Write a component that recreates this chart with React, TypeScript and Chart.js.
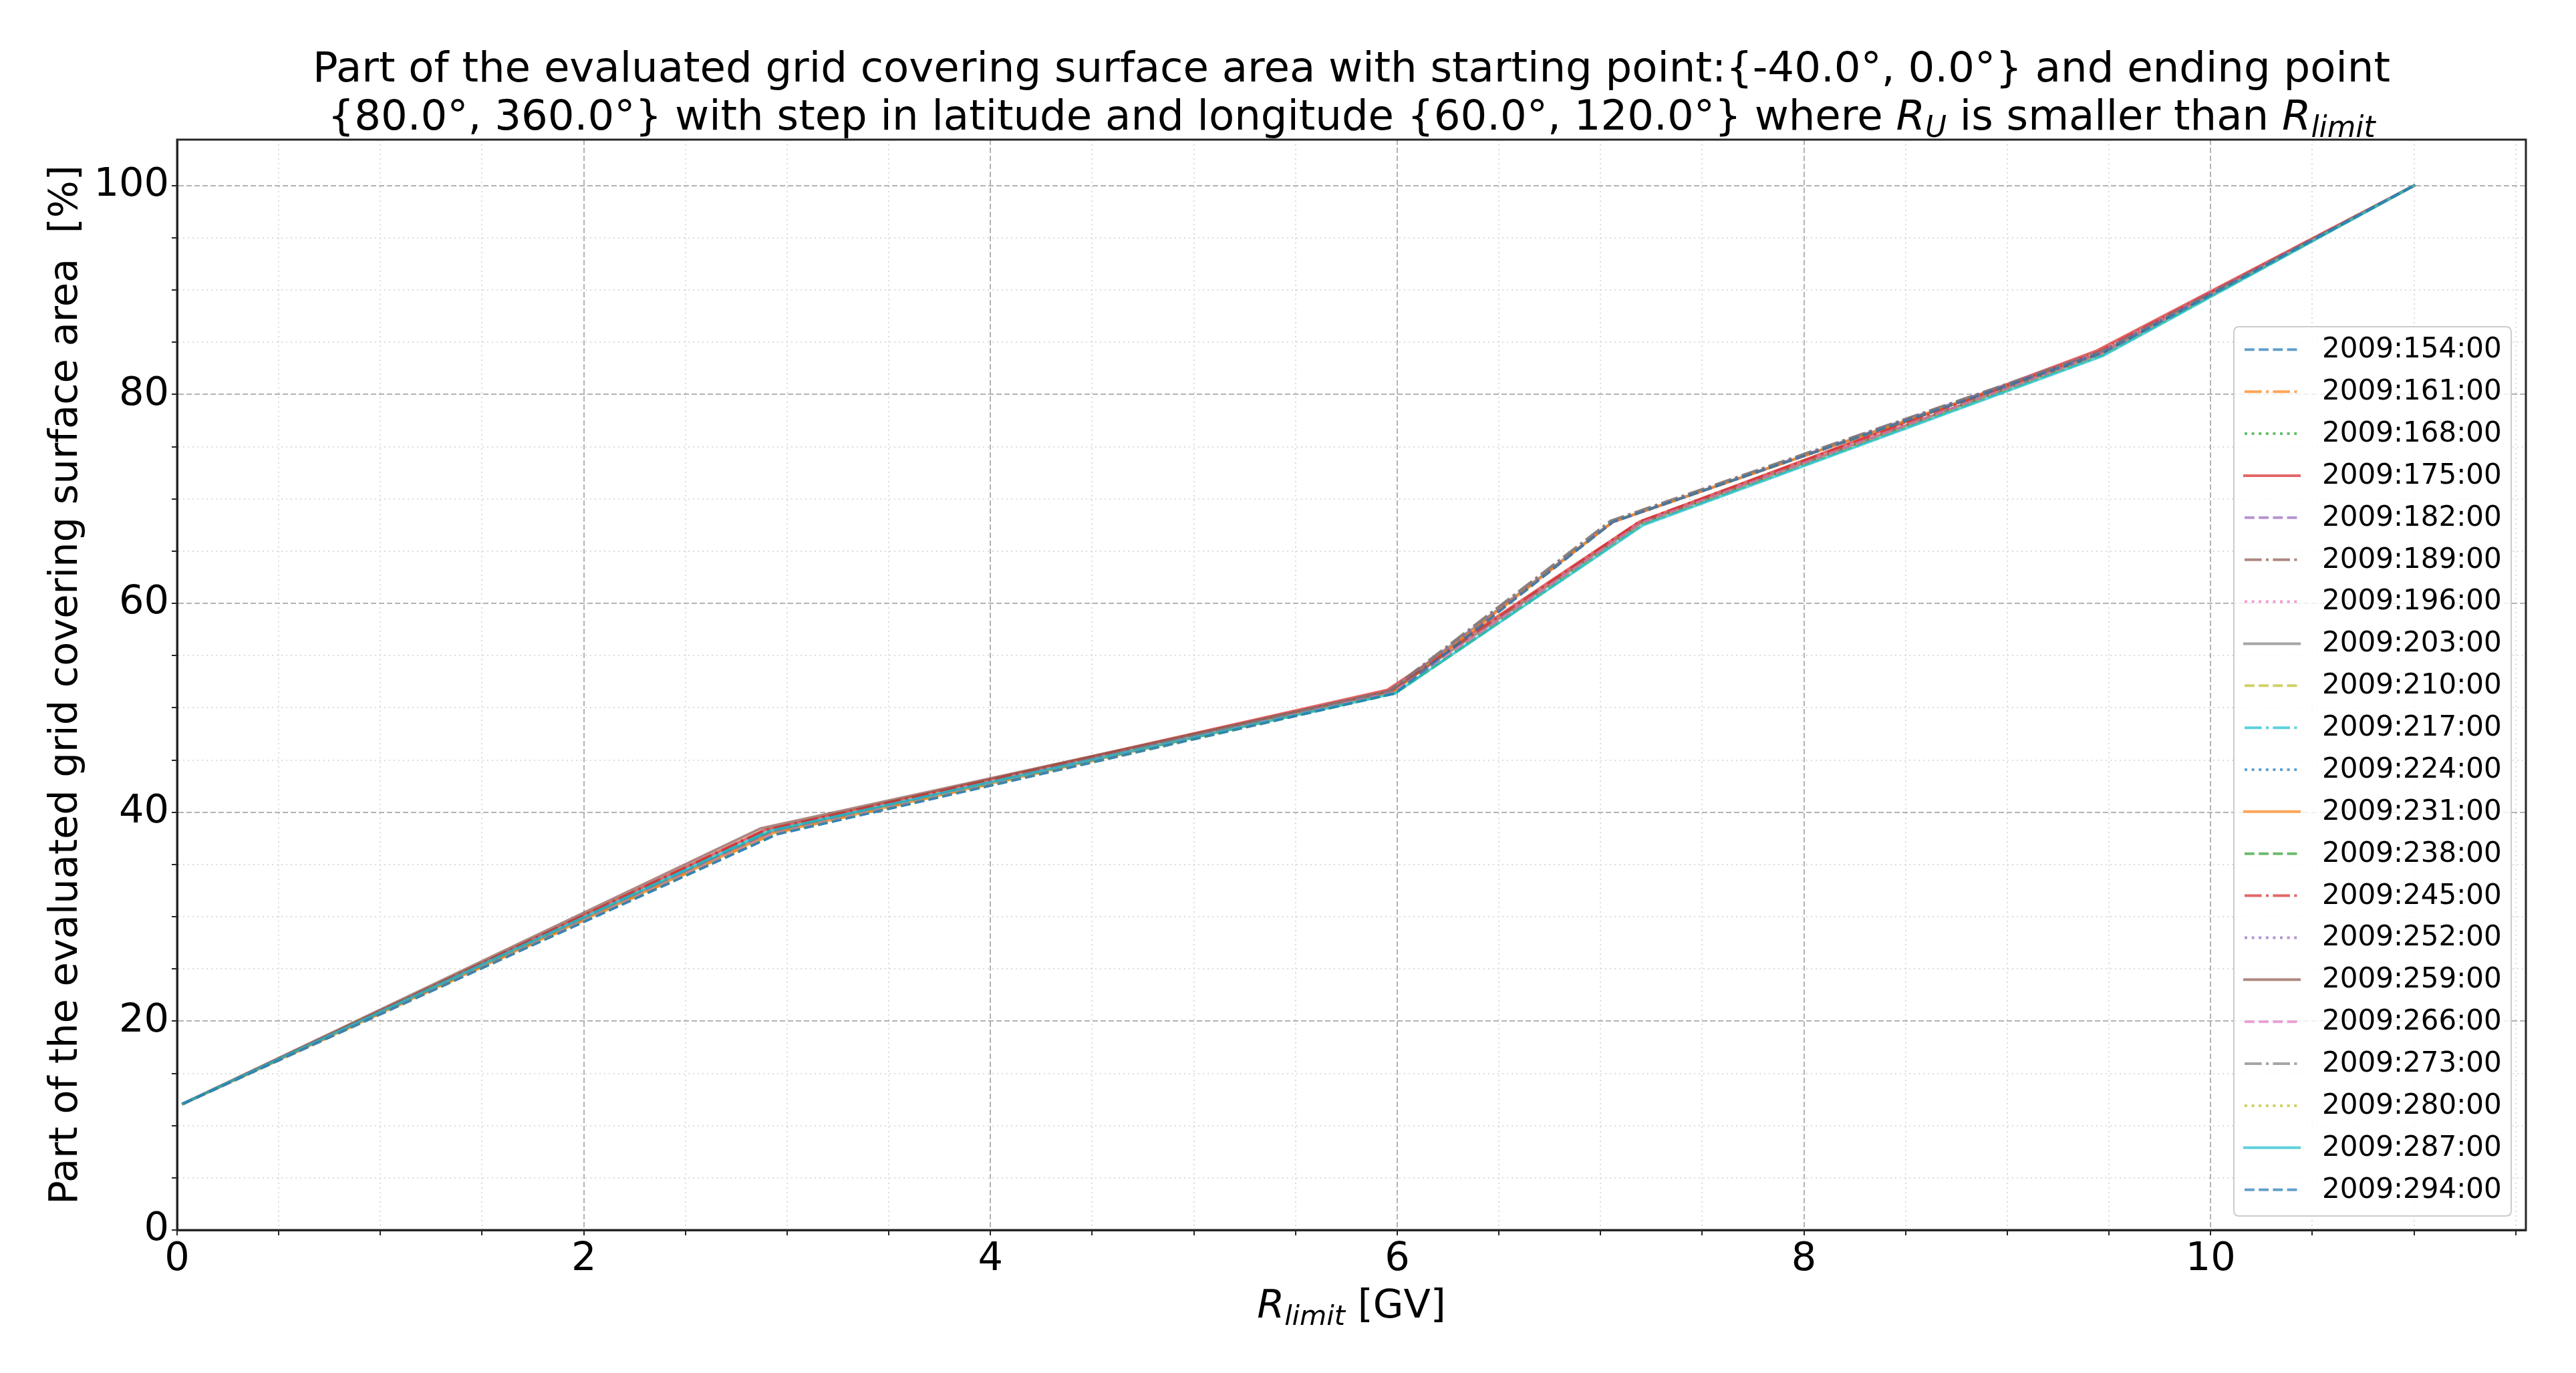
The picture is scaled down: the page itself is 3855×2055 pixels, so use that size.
import React, { useEffect, useRef } from 'react';
import { Chart, registerables } from 'chart.js';

Chart.register(...registerables);

// ---------------- data ----------------
const SERIES_LABELS = [
  '2009:154:00', '2009:161:00', '2009:168:00', '2009:175:00', '2009:182:00', '2009:189:00', '2009:196:00',
  '2009:203:00', '2009:210:00', '2009:217:00', '2009:224:00', '2009:231:00', '2009:238:00', '2009:245:00',
  '2009:252:00', '2009:259:00', '2009:266:00', '2009:273:00', '2009:280:00', '2009:287:00', '2009:294:00',
];

const X_154 = [0.03, 2.95, 5.99, 7.06, 9.47, 11.0];
const Y_154 = [12.1, 37.9, 51.4, 67.8, 84.0, 100.0];
const X_161 = [0.03, 2.94, 5.98, 7.06, 9.47, 11.0];
const Y_161 = [12.1, 38.0, 51.5, 67.8, 84.0, 100.0];
const X_168 = [0.03, 2.91, 5.99, 7.20, 9.46, 11.0];
const Y_168 = [12.1, 38.1, 51.4, 67.7, 83.9, 100.0];
const X_175 = [0.03, 2.89, 5.95, 7.19, 9.44, 11.0];
const Y_175 = [12.1, 38.3, 51.7, 67.8, 84.2, 100.0];
const X_182 = [0.03, 2.92, 5.97, 7.06, 9.46, 11.0];
const Y_182 = [12.1, 38.1, 51.6, 67.8, 84.1, 100.0];
const X_189 = [0.03, 2.90, 5.96, 7.05, 9.46, 11.0];
const Y_189 = [12.1, 38.2, 51.6, 67.9, 84.1, 100.0];
const X_196 = [0.03, 2.93, 5.98, 7.20, 9.46, 11.0];
const Y_196 = [12.1, 38.0, 51.5, 67.7, 83.9, 100.0];
const X_203 = [0.03, 2.92, 5.97, 7.06, 9.47, 11.0];
const Y_203 = [12.1, 38.1, 51.6, 67.8, 84.0, 100.0];
const X_210 = [0.03, 2.93, 5.99, 7.21, 9.47, 11.0];
const Y_210 = [12.1, 38.0, 51.4, 67.6, 83.8, 100.0];
const X_217 = [0.03, 2.91, 5.99, 7.21, 9.47, 11.0];
const Y_217 = [12.1, 38.2, 51.4, 67.6, 83.8, 100.0];
const X_224 = [0.03, 2.94, 5.98, 7.06, 9.47, 11.0];
const Y_224 = [12.1, 38.0, 51.5, 67.8, 84.0, 100.0];
const X_231 = [0.03, 2.93, 5.98, 7.06, 9.47, 11.0];
const Y_231 = [12.1, 38.0, 51.5, 67.8, 84.0, 100.0];
const X_238 = [0.03, 2.92, 5.99, 7.20, 9.46, 11.0];
const Y_238 = [12.1, 38.1, 51.4, 67.7, 83.9, 100.0];
const X_245 = [0.03, 2.89, 5.96, 7.19, 9.45, 11.0];
const Y_245 = [12.1, 38.3, 51.6, 67.8, 84.1, 100.0];
const X_252 = [0.03, 2.92, 5.97, 7.06, 9.46, 11.0];
const Y_252 = [12.1, 38.1, 51.6, 67.8, 84.1, 100.0];
const X_259 = [0.03, 2.87, 5.97, 7.20, 9.46, 11.0];
const Y_259 = [12.1, 38.45, 51.6, 67.7, 83.9, 100.0];
const X_266 = [0.03, 2.93, 5.98, 7.20, 9.46, 11.0];
const Y_266 = [12.1, 38.0, 51.5, 67.7, 83.9, 100.0];
const X_273 = [0.03, 2.91, 5.96, 7.05, 9.46, 11.0];
const Y_273 = [12.1, 38.1, 51.6, 67.9, 84.1, 100.0];
const X_280 = [0.03, 2.94, 5.99, 7.21, 9.47, 11.0];
const Y_280 = [12.1, 37.95, 51.4, 67.6, 83.8, 100.0];
const X_287 = [0.03, 2.91, 5.99, 7.21, 9.47, 11.0];
const Y_287 = [12.1, 38.2, 51.4, 67.5, 83.7, 100.0];
const X_294 = [0.03, 2.95, 5.99, 7.06, 9.47, 11.0];
const Y_294 = [12.1, 37.9, 51.4, 67.8, 84.0, 100.0];

const SERIES_X = [X_154, X_161, X_168, X_175, X_182, X_189, X_196, X_203, X_210, X_217, X_224,
  X_231, X_238, X_245, X_252, X_259, X_266, X_273, X_280, X_287, X_294];
const SERIES_Y = [Y_154, Y_161, Y_168, Y_175, Y_182, Y_189, Y_196, Y_203, Y_210, Y_217, Y_224,
  Y_231, Y_238, Y_245, Y_252, Y_259, Y_266, Y_273, Y_280, Y_287, Y_294];

const X_MAJOR_TICKS = [0, 2, 4, 6, 8, 10];
const X_MINOR_TICKS = [0.5, 1, 1.5, 2.5, 3, 3.5, 4.5, 5, 5.5, 6.5, 7, 7.5, 8.5, 9, 9.5, 10.5, 11, 11.5];
const Y_MAJOR_TICKS = [0, 20, 40, 60, 80, 100];
const Y_MINOR_TICKS = [5, 10, 15, 25, 30, 35, 45, 50, 55, 65, 70, 75, 85, 90, 95];

const X_RANGE = [0, 11.55];
const Y_RANGE = [0, 104.4];

type Seg = { t: string; italic?: boolean; sub?: boolean };
const TITLE_LINE_1: Seg[] = [
  { t: 'Part of the evaluated grid covering surface area with starting point:{-40.0°, 0.0°} and ending point' },
];
const TITLE_LINE_2: Seg[] = [
  { t: '{80.0°, 360.0°} with step in latitude and longitude {60.0°, 120.0°} where ' },
  { t: 'R', italic: true },
  { t: 'U', italic: true, sub: true },
  { t: ' is smaller than ' },
  { t: 'R', italic: true },
  { t: 'limit', italic: true, sub: true },
];
const X_LABEL: Seg[] = [
  { t: 'R', italic: true },
  { t: 'limit', italic: true, sub: true },
  { t: ' [GV]' },
];
const Y_LABEL = 'Part of the evaluated grid covering surface area  [%]';

// ---------------- styles ----------------
const FONT = '"DejaVu Sans"';
const TAB10 = ['31,119,180', '255,127,14', '44,160,44', '214,39,40', '148,103,189',
  '140,86,75', '227,119,194', '127,127,127', '188,189,34', '23,190,207'];
const LW = 4;
const STYLE_CYCLE = [
  [3.7 * LW, 1.6 * LW],
  [6.4 * LW, 1.6 * LW, 1 * LW, 1.6 * LW],
  [1 * LW, 1.65 * LW],
  [],
];

const isIn = (arr: number[], v: any) => typeof v === 'number' && arr.some((a) => Math.abs(a - v) < 1e-9);

function drawRich(ctx: CanvasRenderingContext2D, segs: Seg[], cx: number, baseline: number, size: number) {
  const sub = size * 0.7;
  const fontOf = (s: Seg) => `${s.italic ? 'italic ' : ''}${s.sub ? sub : size}px ${FONT}`;
  let total = 0;
  const widths = segs.map((s) => {
    ctx.font = fontOf(s);
    const w = ctx.measureText(s.t).width;
    total += w;
    return w;
  });
  let x = cx - total / 2;
  ctx.textAlign = 'left';
  ctx.textBaseline = 'alphabetic';
  ctx.fillStyle = '#000';
  segs.forEach((s, i) => {
    ctx.font = fontOf(s);
    ctx.fillText(s.t, x, baseline + (s.sub ? size * 0.18 : 0));
    x += widths[i];
  });
}

const decorPlugin = {
  id: 'decor',
  afterDraw(chart: any) {
    const { ctx, chartArea } = chart;
    const { left, right, top, bottom } = chartArea;
    ctx.save();
    // spines
    ctx.setLineDash([]);
    ctx.strokeStyle = '#262626';
    ctx.lineWidth = 3;
    ctx.strokeRect(left, top, right - left, bottom - top);

    // title and x label
    const cx = (left + right) / 2;
    drawRich(ctx, TITLE_LINE_1, cx, top - 87, 62.5);
    drawRich(ctx, TITLE_LINE_2, cx, top - 15, 62.5);
    drawRich(ctx, X_LABEL, cx, bottom + 131, 59);

    // legend
    const lRight = right - 22;
    const lBottom = bottom - 21;
    const lLeft = lRight - 415;
    const lTop = lBottom - 1331;
    const r = 8;
    ctx.beginPath();
    ctx.moveTo(lLeft + r, lTop);
    ctx.lineTo(lRight - r, lTop);
    ctx.quadraticCurveTo(lRight, lTop, lRight, lTop + r);
    ctx.lineTo(lRight, lBottom - r);
    ctx.quadraticCurveTo(lRight, lBottom, lRight - r, lBottom);
    ctx.lineTo(lLeft + r, lBottom);
    ctx.quadraticCurveTo(lLeft, lBottom, lLeft, lBottom - r);
    ctx.lineTo(lLeft, lTop + r);
    ctx.quadraticCurveTo(lLeft, lTop, lLeft + r, lTop);
    ctx.closePath();
    ctx.fillStyle = 'rgba(255,255,255,0.8)';
    ctx.fill();
    ctx.strokeStyle = '#cccccc';
    ctx.lineWidth = 2;
    ctx.stroke();

    const rowStep = 62.87;
    const firstY = lTop + 34.3;
    chart.data.datasets.forEach((ds: any, i: number) => {
      const y = firstY + i * rowStep;
      ctx.strokeStyle = ds.borderColor;
      ctx.lineWidth = ds.borderWidth;
      ctx.setLineDash(ds.borderDash);
      ctx.lineCap = ds.borderDash.length ? 'butt' : 'square';
      ctx.beginPath();
      ctx.moveTo(lLeft + 16, y);
      ctx.lineTo(lLeft + 98, y);
      ctx.stroke();
      ctx.setLineDash([]);
      ctx.fillStyle = '#000';
      ctx.font = `42px ${FONT}`;
      ctx.textAlign = 'left';
      ctx.textBaseline = 'middle';
      ctx.fillText(ds.label, lLeft + 132, y + 1);
    });
    ctx.restore();
  },
};

export default function App() {
  const ref = useRef<HTMLCanvasElement>(null);

  useEffect(() => {
    const n = SERIES_LABELS.length;
    const datasets = SERIES_LABELS.map((label, i) => ({
      label,
      data: SERIES_X[i].map((x, j) => ({ x, y: SERIES_Y[i][j] })),
      borderColor: `rgba(${TAB10[i % 10]},0.7)`,
      backgroundColor: `rgba(${TAB10[i % 10]},0.7)`,
      borderWidth: LW,
      borderDash: STYLE_CYCLE[i % 4],
      borderCapStyle: STYLE_CYCLE[i % 4].length ? 'butt' : 'square',
      pointRadius: 0,
      pointHoverRadius: 0,
      tension: 0,
      fill: false,
      order: n - i,
    }));

    const gridFor = (major: number[]) => ({
      color: (c: any) => (isIn(major, c.tick && c.tick.value) ? '#b3b3b3' : '#dcdcdc'),
      lineWidth: 2,
      borderDash: (c: any) => (isIn(major, c.tick && c.tick.value) ? [8, 4] : [2, 5]),
      tickColor: '#262626',
      tickWidth: 2,
      tickLength: 8,
      drawTicks: true,
    });
    const borderFor = (major: number[]) => ({
      display: true,
      color: '#262626',
      width: 3,
      dash: (c: any) => (isIn(major, c.tick && c.tick.value) ? [8, 4] : [2, 5]),
    });

    const chart = new Chart(ref.current as HTMLCanvasElement, {
      type: 'line',
      data: { datasets } as any,
      options: {
        responsive: false,
        devicePixelRatio: 1,
        animation: false,
        events: [],
        layout: { padding: { left: 0, right: 75, top: 209, bottom: 0 } },
        plugins: {
          legend: { display: false },
          tooltip: { enabled: false },
          title: { display: false },
        },
        scales: {
          x: {
            type: 'linear',
            min: X_RANGE[0],
            max: X_RANGE[1],
            afterBuildTicks: (scale: any) => {
              scale.ticks = [...X_MAJOR_TICKS, ...X_MINOR_TICKS].sort((a, b) => a - b).map((value) => ({ value }));
            },
            afterFit: (scale: any) => {
              scale.height = 214;
            },
            ticks: {
              autoSkip: false,
              maxRotation: 0,
              padding: 1,
              color: '#000',
              font: { family: 'DejaVu Sans', size: 59 },
              callback: (v: any) => (isIn(X_MAJOR_TICKS, v) ? String(v) : ''),
            },
            grid: gridFor(X_MAJOR_TICKS) as any,
            border: borderFor(X_MAJOR_TICKS) as any,
          },
          y: {
            type: 'linear',
            min: Y_RANGE[0],
            max: Y_RANGE[1],
            afterBuildTicks: (scale: any) => {
              scale.ticks = [...Y_MAJOR_TICKS, ...Y_MINOR_TICKS].sort((a, b) => a - b).map((value) => ({ value }));
            },
            afterFit: (scale: any) => {
              scale.width = 265;
            },
            ticks: {
              autoSkip: false,
              padding: 4,
              color: '#000',
              font: { family: 'DejaVu Sans', size: 59 },
              callback: (v: any) => (isIn(Y_MAJOR_TICKS, v) ? String(v) : ''),
            },
            grid: gridFor(Y_MAJOR_TICKS) as any,
            border: borderFor(Y_MAJOR_TICKS) as any,
            title: {
              display: true,
              text: Y_LABEL,
              color: '#000',
              font: { family: 'DejaVu Sans', size: 59 },
              padding: { top: 64, bottom: 0 },
            },
          },
        },
      } as any,
      plugins: [decorPlugin],
    });
    return () => chart.destroy();
  }, []);

  return (
    <div style={{ position: 'absolute', left: 0, top: 0, width: 3855, height: 2055, background: '#fff' }}>
      <canvas ref={ref} width={3855} height={2055} style={{ display: 'block', width: 3855, height: 2055 }} />
    </div>
  );
}
